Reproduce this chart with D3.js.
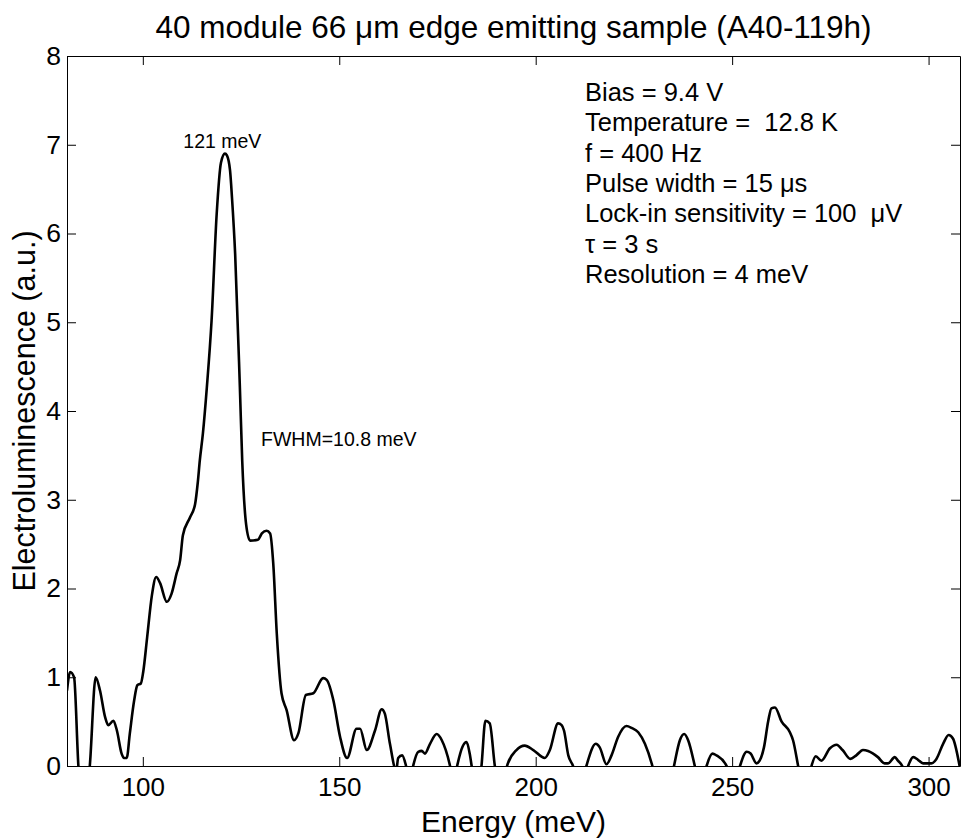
<!DOCTYPE html>
<html>
  <head>
    <meta charset="utf-8">
    <title>Electroluminescence</title>
    <script src="https://d3js.org/d3.v7.min.js"></script>
    <style>
    body { margin: 0; background: #fff; }
    text { font-family: "Liberation Sans", Arial, Helvetica, sans-serif; fill: #000; }
    .axis path, .axis line { stroke: #000; stroke-width: 1px; }
    </style>
  </head>
  <body>
    <script>
      // spectrum (meV, a.u.); negative parts are clipped at 0
      const energy = [
        80.7, 81.5, 82.5, 83.6, 85.0, 86.5, 88.0, 89.1, 90.4, 91.2, 92.5, 93.4,
        94.6, 95.2, 95.9, 96.7, 97.8, 98.6, 99.5, 100.1, 101.1, 102.3, 103.4, 104.4,
        106.1, 107.3, 108.6, 109.5, 110.2, 112.0, 113.3, 114.0, 114.5, 115.3, 116.3, 117.5,
        118.8, 119.9, 120.9, 121.4, 122.2, 122.7, 123.5, 124.7, 125.3, 126.3, 127.3, 129.3,
        130.3, 131.5, 132.4, 133.2, 134.1, 135.3, 136.6, 138.5, 139.6, 141.5, 143.4, 145.9,
        146.8, 148.5, 150.2, 152.0, 154.4, 155.3, 157.0, 159.1, 160.8, 161.6, 162.9, 164.5,
        165.0, 166.0, 167.0, 167.9, 168.8, 170.1, 171.0, 171.8, 173.1, 174.8, 176.1, 178.2,
        179.1, 180.0, 181.4, 182.4, 183.2, 183.7, 185.0, 186.2, 187.2, 188.3, 189.6, 191.2,
        192.7, 195.1, 197.2, 199.4, 202.3, 203.6, 205.7, 206.6, 207.2, 208.3, 209.5, 211.2,
        212.9, 215.3, 216.3, 218.0, 219.3, 221.0, 223.1, 224.4, 226.1, 227.8, 229.7, 232.5,
        235.2, 236.7, 237.8, 238.8, 240.5, 242.0, 243.5, 245.0, 246.0, 248.6, 250.3, 252.0,
        253.7, 254.7, 256.2, 257.0, 258.1, 259.2, 260.0, 260.9, 262.6, 264.7, 265.5, 266.8,
        268.5, 270.2, 271.3, 272.7, 274.9, 276.6, 278.1, 280.1, 281.6, 283.3, 284.6, 287.1,
        288.8, 289.7, 291.4, 292.2, 293.3, 294.1, 294.8, 296.1, 297.3, 298.6, 300.7, 302.0,
        303.7, 305.1, 306.2, 307.9
      ];
      const intensity = [
        0.85, 1.06, 1.00, 0.00, -0.50, 0.00, 1.00, 0.85, 0.55, 0.46, 0.51, 0.40,
        0.14, 0.09, 0.09, 0.37, 0.74, 0.91, 0.93, 1.06, 1.45, 1.92, 2.13, 2.06,
        1.85, 1.94, 2.17, 2.32, 2.60, 2.80, 2.95, 3.20, 3.44, 3.75, 4.27, 5.02,
        6.22, 6.80, 6.90, 6.88, 6.71, 6.40, 5.77, 4.27, 3.44, 2.72, 2.54, 2.55,
        2.62, 2.65, 2.62, 2.28, 1.49, 0.82, 0.63, 0.29, 0.37, 0.80, 0.82, 0.99,
        0.97, 0.74, 0.33, 0.09, 0.42, 0.42, 0.18, 0.40, 0.64, 0.59, 0.25, -0.05,
        0.09, 0.12, 0.00, -0.20, 0.00, 0.16, 0.17, 0.14, 0.25, 0.36, 0.29, 0.00,
        -0.20, 0.00, 0.22, 0.27, 0.14, 0.00, -0.40, 0.00, 0.51, 0.48, 0.00, -0.40,
        0.00, 0.18, 0.23, 0.18, 0.09, 0.18, 0.48, 0.46, 0.40, 0.12, 0.00, -0.30,
        0.00, 0.25, 0.21, 0.02, 0.12, 0.33, 0.45, 0.43, 0.38, 0.25, 0.00, -0.60,
        0.00, 0.29, 0.36, 0.29, 0.00, -0.30, 0.00, 0.14, 0.12, 0.00, -0.30, 0.00,
        0.16, 0.14, 0.03, 0.06, 0.21, 0.51, 0.65, 0.66, 0.50, 0.38, 0.29, 0.00,
        -0.40, 0.00, 0.11, 0.06, 0.20, 0.24, 0.18, 0.08, 0.12, 0.18, 0.17, 0.10,
        0.03, 0.03, 0.10, 0.06, 0.00, -0.10, 0.00, 0.10, 0.07, 0.03, 0.03, 0.08,
        0.25, 0.35, 0.31, 0.00
      ];

      const xTicks = [100, 150, 200, 250, 300];
      const yTicks = [0, 1, 2, 3, 4, 5, 6, 7, 8];

      const title = "40 module 66 \u03bcm edge emitting sample (A40-119h)";
      const xLabel = "Energy (meV)";
      const yLabel = "Electroluminescence (a.u.)";
      const conditions = [
        "Bias = 9.4 V",
        "Temperature =  12.8 K",
        "f = 400 Hz",
        "Pulse width = 15 \u03bcs",
        "Lock-in sensitivity = 100  \u03bcV",
        "\u03c4 = 3 s",
        "Resolution = 4 meV"
      ];

      const width = 961;
      const height = 840;
      const margin = { top: 56, right: 1, bottom: 74, left: 67 };
      const plotW = width - margin.left - margin.right;
      const plotH = height - margin.top - margin.bottom;
      const tickLen = 9;

      const svg = d3.select("body")
        .append("svg")
          .attr("width", width)
          .attr("height", height);

      const g = svg.append("g")
          .attr("transform", "translate(" + margin.left + "," + margin.top + ")");

      const x = d3.scaleLinear()
          .domain([80.7, 308.0])
          .range([0, plotW]);

      const y = d3.scaleLinear()
          .domain([0, 8])
          .range([plotH, 0]);

      g.append("clipPath")
          .attr("id", "plot-clip")
        .append("rect")
          .attr("width", plotW)
          .attr("height", plotH);

      // inward ticks on all four sides, MATLAB style
      g.append("g")
          .attr("class", "axis")
          .attr("transform", "translate(0," + plotH + ")")
          .call(d3.axisBottom(x).tickValues(xTicks).tickSizeInner(-tickLen).tickSizeOuter(0).tickPadding(12))
          .call(s => s.selectAll("text").style("font-size", "26px").style("font-family", null));

      g.append("g")
          .attr("class", "axis")
          .call(d3.axisTop(x).tickValues(xTicks).tickSizeInner(-tickLen).tickSizeOuter(0).tickFormat(""));

      g.append("g")
          .attr("class", "axis")
          .call(d3.axisLeft(y).tickValues(yTicks).tickSizeInner(-tickLen).tickSizeOuter(0).tickPadding(6))
          .call(s => s.selectAll("text").style("font-size", "26.5px").style("font-family", null));

      g.append("g")
          .attr("class", "axis")
          .attr("transform", "translate(" + plotW + ",0)")
          .call(d3.axisRight(y).tickValues(yTicks).tickSizeInner(-tickLen).tickSizeOuter(0).tickFormat(""));

      const line = d3.line()
          .x((d, i) => x(energy[i]))
          .y(d => y(d))
          .curve(d3.curveMonotoneX);

      g.append("path")
          .datum(intensity)
          .attr("clip-path", "url(#plot-clip)")
          .attr("fill", "none")
          .attr("stroke", "#000")
          .attr("stroke-width", 2.6)
          .attr("stroke-linejoin", "round")
          .attr("d", line);

      // peak labels
      g.append("text")
          .attr("x", x(121) - 42)
          .attr("y", y(6.9) - 6)
          .style("font-size", "19.5px")
          .text("121 meV");

      g.append("text")
          .attr("x", 261 - margin.left)
          .attr("y", 446 - margin.top)
          .style("font-size", "19.5px")
          .text("FWHM=10.8 meV");

      g.append("g")
          .attr("transform", "translate(" + (585 - margin.left) + "," + (101 - margin.top) + ")")
        .selectAll("text")
        .data(conditions)
        .enter().append("text")
          .attr("y", (d, i) => i * 30.3)
          .style("font-size", "25.5px")
          .style("white-space", "pre")
          .attr("xml:space", "preserve")
          .text(d => d);

      svg.append("text")
          .attr("x", margin.left + plotW / 2)
          .attr("y", 38)
          .attr("text-anchor", "middle")
          .style("font-size", "31.5px")
          .text(title);

      svg.append("text")
          .attr("x", margin.left + plotW / 2)
          .attr("y", 832)
          .attr("text-anchor", "middle")
          .style("font-size", "30px")
          .text(xLabel);

      svg.append("text")
          .attr("transform", "translate(35," + (margin.top + plotH / 2) + ") rotate(-90)")
          .attr("text-anchor", "middle")
          .style("font-size", "30.5px")
          .text(yLabel);
    </script>
  </body>
</html>
